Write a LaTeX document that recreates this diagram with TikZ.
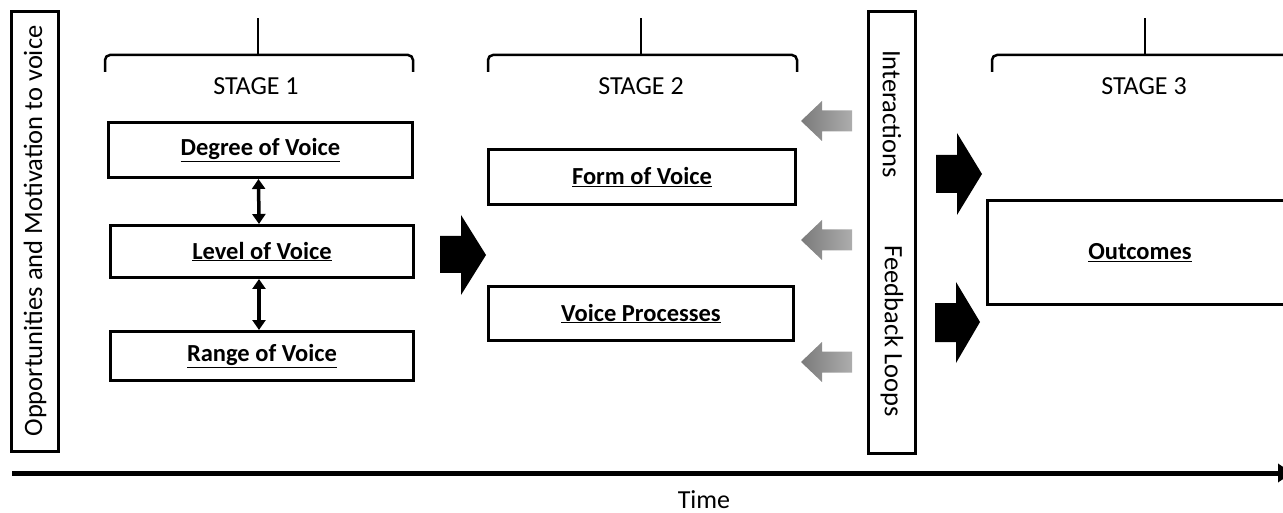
\documentclass[tikz,border=0pt]{standalone}
\usepackage{fontspec}
\setmainfont{Carlito}
\usetikzlibrary{arrows.meta}
\begin{document}
\begin{tikzpicture}[x=1pt,y=-1pt,
  box/.style={draw,line width=3pt,inner sep=0pt,font=\bfseries\fontsize{24.5}{29}\selectfont},
  tallbox/.style={draw,line width=3pt,inner sep=0pt},
  lbl/.style={font=\fontsize{26}{31}\selectfont,inner sep=0pt},
  rlbl/.style={font=\fontsize{26.5}{31}\selectfont,inner sep=0pt},
  brace/.style={line width=2.5pt,rounded corners=5pt},
  dbl/.style={line width=3.5pt,{Triangle[length=10pt,width=13pt]}-{Triangle[length=10pt,width=13pt]}},
  blockarrow/.style={fill=black},
  grayarrow/.style={left color=black!52,right color=black!32}
]
\useasboundingbox (0,0) rectangle (1283,513);
\clip (0,0) rectangle (1283,513);

% left vertical box
\node[tallbox,minimum width=47,minimum height=440] (opp) at (35,231.5) {};
\node[rlbl,rotate=90] (opptxt) at (35,231) {Opportunities and Motivation to voice};

% feedback box
\node[tallbox,minimum width=47,minimum height=442] (fb) at (892,232.5) {};
\node[rlbl,rotate=-90] (inter) at (892,114) {Interactions};
\node[rlbl,rotate=-90] (loops) at (892,331) {Feedback Loops};

% braces
\draw[brace] (105,72) -- (105,55) -- (413,55) -- (413,72);
\draw[line width=2.5pt] (258,55) -- (258,18);
\draw[brace] (488,72) -- (488,55) -- (797,55) -- (797,72);
\draw[line width=2.5pt] (641,55) -- (641,18);
\draw[brace] (992,72) -- (992,55) -- (1300,55) -- (1300,72);
\draw[line width=2.5pt] (1145,55) -- (1145,18);

% stage labels
\node[lbl] (s1) at (256,86) {STAGE 1};
\node[lbl] (s2) at (641,86) {STAGE 2};
\node[lbl] (s3) at (1144,86) {STAGE 3};

% stage 1 boxes
\node[box,minimum width=304,minimum height=55] (deg) at (260.5,150) {\underline{Degree of Voice}};
\node[box,minimum width=303,minimum height=52] (lev) at (262,251.5) {\underline{Level of Voice}};
\node[box,minimum width=303,minimum height=49] (rng) at (262,356) {\underline{Range of Voice}};
\draw[dbl] ([xshift=-2pt]deg.south) -- ([xshift=-3pt]lev.north);
\draw[dbl] ([xshift=-3pt]lev.south) -- ([xshift=-3pt]rng.north);

% stage 2 boxes
\node[box,minimum width=307,minimum height=55] (form) at (642,177) {\underline{Form of Voice}};
\node[box,minimum width=305,minimum height=54] (proc) at (641,313.5) {\underline{Voice Processes}};

% stage 3 box
\node[box,minimum width=306,minimum height=104] (out) at (1140,252.5) {\underline{Outcomes}};

% black block arrows
\fill[blockarrow] (440,236) -- (461,236) -- (461,215) -- (486,255) -- (461,295) -- (461,273) -- (440,273) -- cycle;
\fill[blockarrow] (936,155) -- (957,155) -- (957,133) -- (982,174) -- (957,215) -- (957,193) -- (936,193) -- cycle;
\fill[blockarrow] (935,303) -- (956,303) -- (956,282) -- (980,322) -- (956,363) -- (956,342) -- (935,342) -- cycle;

% gray block arrows
\foreach \yy in {121,240,362}{
  \shade[grayarrow] (852,\yy-10.5) -- (822,\yy-10.5) -- (822,\yy-20) -- (801,\yy) -- (822,\yy+20) -- (822,\yy+10.5) -- (852,\yy+10.5) -- cycle;
}

% time axis
\coordinate (t0) at (12,473);
\coordinate (t1) at (1292,473);
\draw[line width=5pt,-{Triangle[length=14pt,width=18pt]}] (t0) -- (t1);
\node[lbl] (time) at (704,500) {Time};
\end{tikzpicture}
\end{document}
